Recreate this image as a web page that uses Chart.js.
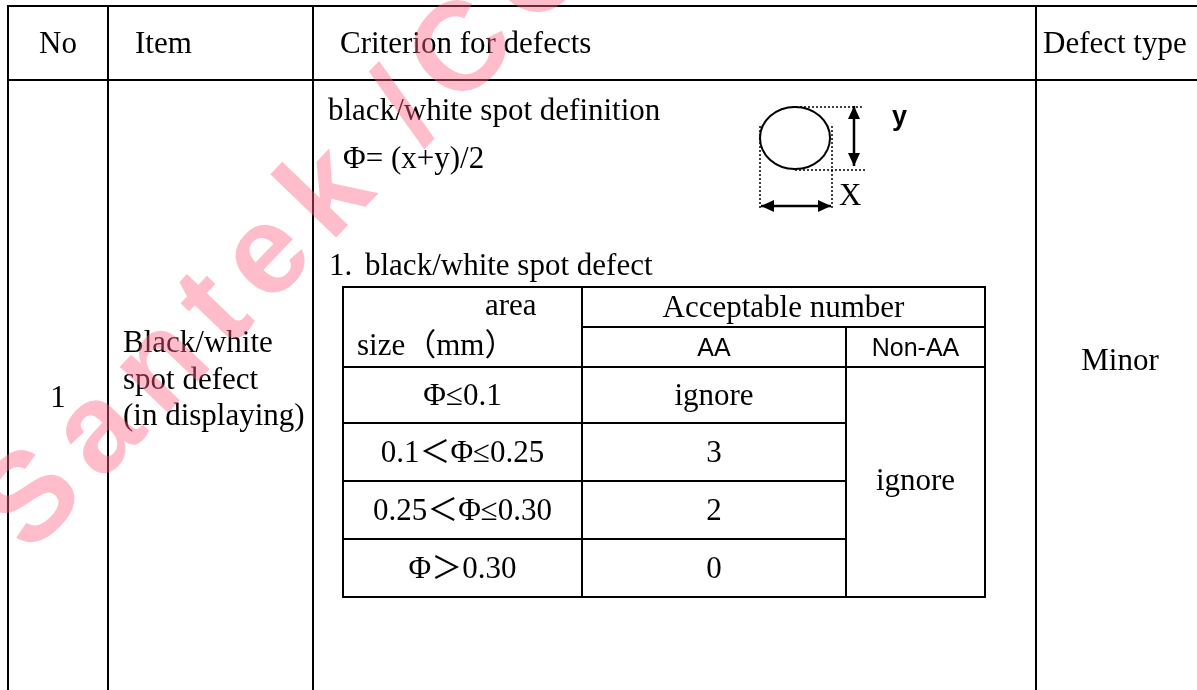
<!DOCTYPE html>
<html>
<head>
<meta charset="utf-8">
<title>Black/white spot defect</title>
<script src="https://cdn.jsdelivr.net/npm/chart.js@4/dist/chart.umd.min.js"></script>
<style>
  html, body { margin: 0; padding: 0; background: #fff; }
  #wrap { width: 1197px; height: 690px; }
</style>
</head>
<body>
<div id="wrap"><canvas id="defectTable" width="1197" height="690"></canvas></div>
<script>
// table content
const headers = ["No", "Item", "Criterion for defects", "Defect type"];
const itemNo = "1";
const itemLines = ["Black/white", "spot defect", "(in displaying)"];
const defectType = "Minor";
const definitionLines = ["black/white spot definition", "Φ= (x+y)/2"];
const sectionNo = "1.";
const sectionTitle = "black/white spot defect";
const sizeHeader = ["area", "size（mm）"];
const countHeader = "Acceptable number";
const subHeaders = ["AA", "Non-AA"];
const sizeRanges = ["Φ≤0.1", "0.1＜Φ≤0.25", "0.25＜Φ≤0.30", "Φ＞0.30"];
const aaCounts = ["ignore", "3", "2", "0"];
const nonAaCount = "ignore";
const diagramLabels = ["y", "X"];
const watermark = "Santek/CO";

const SERIF = "31px 'Liberation Serif', 'Noto Sans CJK SC', serif";
const SANS = "25px 'Liberation Sans', Arial, sans-serif";
const INK = "#000";

const tablePlugin = {
    id: "tablePlugin",
    afterDraw(chart) {
        const ctx = chart.ctx;
        const sx = chart.scales.x, sy = chart.scales.y;
        const px = v => sx.getPixelForValue(v);
        const py = v => sy.getPixelForValue(v);

        function line(x1, y1, x2, y2, w, dash) {
            ctx.save();
            ctx.strokeStyle = INK;
            ctx.lineWidth = w || 2;
            if (dash) ctx.setLineDash(dash);
            ctx.beginPath();
            ctx.moveTo(px(x1), py(y1));
            ctx.lineTo(px(x2), py(y2));
            ctx.stroke();
            ctx.restore();
        }
        function text(str, x, y, font, align) {
            ctx.save();
            ctx.fillStyle = INK;
            ctx.font = font || SERIF;
            ctx.textAlign = align || "left";
            ctx.textBaseline = "alphabetic";
            ctx.fillText(str, px(x), py(y));
            ctx.restore();
        }
        function head(x, y, ang) {
            const L = 13, W = 6;
            ctx.beginPath();
            ctx.moveTo(px(x), py(y));
            ctx.lineTo(px(x) - L * Math.cos(ang) + W * Math.sin(ang), py(y) - L * Math.sin(ang) - W * Math.cos(ang));
            ctx.lineTo(px(x) - L * Math.cos(ang) - W * Math.sin(ang), py(y) - L * Math.sin(ang) + W * Math.cos(ang));
            ctx.closePath();
            ctx.fill();
        }
        function arrow(x1, y1, x2, y2) {
            line(x1, y1, x2, y2, 2.5);
            const a = Math.atan2(py(y2) - py(y1), px(x2) - px(x1));
            ctx.save();
            ctx.fillStyle = INK;
            head(x2, y2, a);
            head(x1, y1, a + Math.PI);
            ctx.restore();
        }

        // outer grid
        const cols = [8, 108, 313, 1036];
        cols.forEach(c => line(c, 6, c, 690));
        line(7, 6, 1197, 6);
        line(7, 80, 1197, 80);

        // header
        text(headers[0], 58, 53, SERIF, "center");
        text(headers[1], 135, 53);
        text(headers[2], 340, 53);
        text(headers[3], 1043, 53);

        // item column
        text(itemNo, 58, 407, SERIF, "center");
        itemLines.forEach((s, i) => text(s, 123, 352 + i * 36.5));
        text(defectType, 1120, 370, SERIF, "center");

        // definition
        text(definitionLines[0], 328, 120);
        text(definitionLines[1], 343, 168);

        // spot diagram
        ctx.save();
        ctx.strokeStyle = INK;
        ctx.lineWidth = 2;
        ctx.beginPath();
        ctx.ellipse(px(795), py(138), 35, 31, 0, 0, Math.PI * 2);
        ctx.stroke();
        ctx.restore();
        const dot = [2, 2];
        line(792, 107, 864, 107, 1.5, dot);
        line(795, 170, 866, 170, 1.5, dot);
        line(760, 126, 760, 210, 1.5, dot);
        line(832, 126, 832, 210, 1.5, dot);
        arrow(854, 106, 854, 166);
        arrow(761, 206, 831, 206);
        text(diagramLabels[0], 892, 125, "bold 27px 'Liberation Sans', Arial, sans-serif");
        text(diagramLabels[1], 839, 205);

        // section title
        text(sectionNo, 329, 275);
        text(sectionTitle, 365, 275);

        // inner table
        const L = 343, C1 = 582, C2 = 846, R = 985;
        const T = 287, SH = 327, HB = 367;
        const rows = [367, 423, 481, 539, 597];
        line(L, T, R, T);
        line(C1, SH, R, SH);
        line(L, HB, R, HB);
        rows.slice(1, -1).forEach(r => line(L, r, C2, r));
        line(L, rows[4], R, rows[4]);
        line(L, T - 1, L, rows[4] + 1);
        line(R, T - 1, R, rows[4] + 1);
        line(C1, T, C1, rows[4]);
        line(C2, SH, C2, rows[4]);

        text(sizeHeader[0], 485, 315);
        text(sizeHeader[1], 357, 355);
        text(countHeader, (C1 + R) / 2, 317, SERIF, "center");
        text(subHeaders[0], (C1 + C2) / 2, 356, SANS, "center");
        text(subHeaders[1], (C2 + R) / 2, 356, SANS, "center");

        sizeRanges.forEach((s, i) => {
            const mid = (rows[i] + rows[i + 1]) / 2;
            text(s, (L + C1) / 2, mid + 10, SERIF, "center");
            text(aaCounts[i], (C1 + C2) / 2, mid + 10, SERIF, "center");
        });
        text(nonAaCount, (C2 + R) / 2, 490, SERIF, "center");

        // watermark
        ctx.save();
        ctx.globalAlpha = 0.42;
        ctx.fillStyle = "rgb(255,95,128)";
        ctx.font = "bold 126px 'Liberation Sans', Arial, sans-serif";
        ctx.translate(px(30), py(556));
        ctx.rotate(-Math.PI / 4 - 0.02);
        let adv = 0;
        for (const ch of watermark) {
            ctx.fillText(ch, adv, 0);
            adv += ctx.measureText(ch).width + (ch === "k" ? 62 : 18);
        }
        ctx.restore();
    }
};

document.addEventListener("DOMContentLoaded", () => {
    new Chart(document.getElementById("defectTable").getContext("2d"), {
        type: "scatter",
        data: { datasets: [] },
        options: {
            responsive: false,
            animation: false,
            devicePixelRatio: 1,
            layout: { padding: 0 },
            plugins: { legend: { display: false }, tooltip: { enabled: false } },
            scales: {
                x: { type: "linear", min: 0, max: 1197, display: false },
                y: { type: "linear", min: 0, max: 690, reverse: true, display: false }
            }
        },
        plugins: [tablePlugin]
    });
});
</script>
</body>
</html>
